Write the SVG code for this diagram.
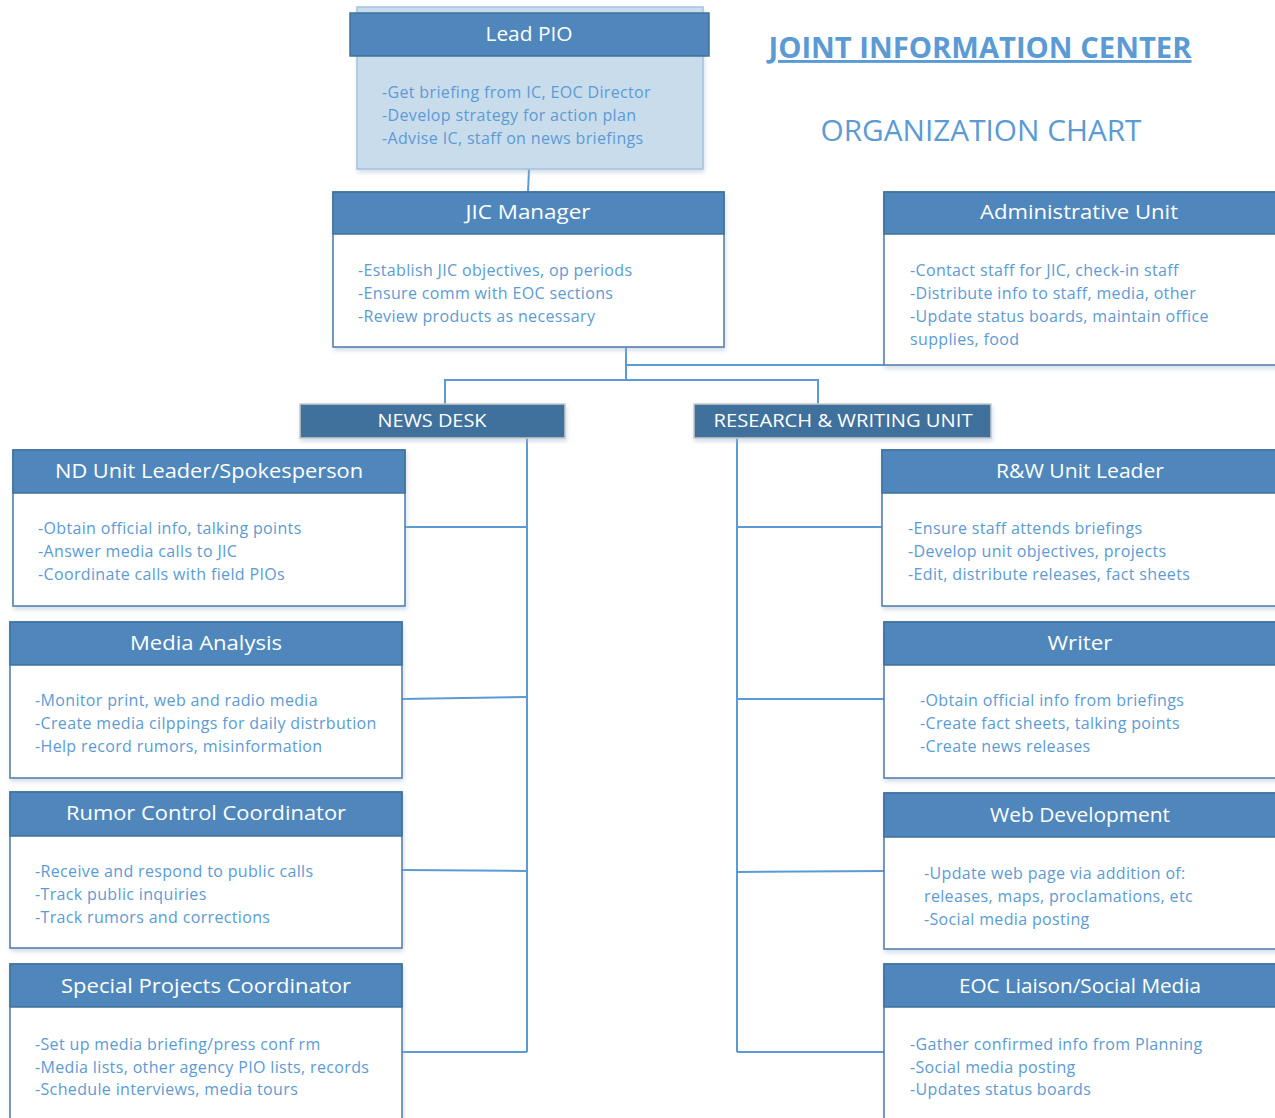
<svg xmlns="http://www.w3.org/2000/svg" width="1275" height="1118" viewBox="0 0 1275 1118">
<defs>
<filter id="sh" x="-5%" y="-5%" width="115%" height="120%">
<feDropShadow dx="1" dy="3" stdDeviation="2" flood-color="#9fb8d0" flood-opacity="0.45"/>
</filter>
<style>
.body{fill:#ffffff;stroke:#4a78a8;stroke-width:1.5}
.hdr{fill:#4f87bc;stroke:#41719c;stroke-width:1.5}
.unit{fill:#41719c;stroke:#c9c9c9;stroke-width:1.5}
.ttl{font-family:"Open Sans","Noto Sans",sans-serif;font-size:19.5px;fill:#ffffff;text-anchor:middle}
.unitt{font-family:"Open Sans","Noto Sans",sans-serif;font-size:18px;fill:#ffffff;text-anchor:middle}
.txt{font-family:"Open Sans","Noto Sans",sans-serif;font-size:16px;letter-spacing:0.35px;fill:#5b9bd5}
.con{fill:none;stroke:#5b9bd5;stroke-width:2}
.head1{font-family:"Open Sans","Noto Sans",sans-serif;font-size:29px;font-weight:bold;fill:#5b9bd5;text-anchor:middle;text-decoration:underline}
.head2{font-family:"Open Sans","Noto Sans",sans-serif;font-size:29px;fill:#5b9bd5;text-anchor:middle}
</style>
</defs>
<rect width="1275" height="1118" fill="#ffffff"/>

<g id="title">
<text class="head1" x="980" y="58" textLength="423" lengthAdjust="spacingAndGlyphs">JOINT INFORMATION CENTER</text>
<text class="head2" x="981" y="141" textLength="321" lengthAdjust="spacingAndGlyphs">ORGANIZATION CHART</text>
</g>

<g id="connectors">
<path class="con" d="M529 169 L528 192"/>
<path class="con" d="M626 347 L626 380"/>
<path class="con" d="M626 365 L884 365"/>
<path class="con" d="M445 404 L445 380 L818 380 L818 404"/>
<path class="con" d="M527 438 L527 1052"/>
<path class="con" d="M405 527 L527 527"/>
<path class="con" d="M402 699 L527 697"/>
<path class="con" d="M402 870 L527 871"/>
<path class="con" d="M402 1052 L527 1052"/>
<path class="con" d="M737 438 L737 1052"/>
<path class="con" d="M737 527 L882 527"/>
<path class="con" d="M737 699 L884 699"/>
<path class="con" d="M737 872 L884 871"/>
<path class="con" d="M737 1052 L884 1052"/>
</g>

<g id="lead-pio">
<rect x="357" y="7" width="346" height="162" fill="#c9dcec" stroke="#a3c3df" stroke-width="1.5" filter="url(#sh)"/>
<rect class="hdr" x="350" y="13" width="359" height="43"/>
<text class="ttl" x="529" y="41" textLength="87" lengthAdjust="spacingAndGlyphs">Lead PIO</text>
<text class="txt" x="382" y="98">-Get briefing from IC, EOC Director</text>
<text class="txt" x="382" y="121">-Develop strategy for action plan</text>
<text class="txt" x="382" y="144">-Advise IC, staff on news briefings</text>
</g>

<g id="jic-manager">
<rect class="body" x="333" y="192" width="391" height="155" filter="url(#sh)"/>
<rect class="hdr" x="333" y="192" width="391" height="42"/>
<text class="ttl" x="528" y="219" textLength="125" lengthAdjust="spacingAndGlyphs">JIC Manager</text>
<text class="txt" x="358" y="276">-Establish JIC objectives, op periods</text>
<text class="txt" x="358" y="299">-Ensure comm with EOC sections</text>
<text class="txt" x="358" y="322">-Review products as necessary</text>
</g>

<g id="admin-unit">
<rect class="body" x="884" y="192" width="395" height="173" filter="url(#sh)"/>
<rect class="hdr" x="884" y="192" width="395" height="42"/>
<text class="ttl" x="1079" y="219" textLength="198" lengthAdjust="spacingAndGlyphs">Administrative Unit</text>
<text class="txt" x="910" y="276">-Contact staff for JIC, check-in staff</text>
<text class="txt" x="910" y="299">-Distribute info to staff, media, other</text>
<text class="txt" x="910" y="322">-Update status boards, maintain office</text>
<text class="txt" x="910" y="345">supplies, food</text>
</g>

<g id="news-desk">
<rect class="unit" x="300" y="404" width="265" height="34" filter="url(#sh)"/>
<text class="unitt" x="432" y="427" textLength="109" lengthAdjust="spacingAndGlyphs">NEWS DESK</text>
</g>

<g id="rw-unit">
<rect class="unit" x="694" y="404" width="297" height="34" filter="url(#sh)"/>
<text class="unitt" x="843" y="427" textLength="259" lengthAdjust="spacingAndGlyphs">RESEARCH &amp; WRITING UNIT</text>
</g>

<g id="nd-leader">
<rect class="body" x="13" y="450" width="392" height="156" filter="url(#sh)"/>
<rect class="hdr" x="13" y="450" width="392" height="43"/>
<text class="ttl" x="209" y="478" textLength="308" lengthAdjust="spacingAndGlyphs">ND Unit Leader/Spokesperson</text>
<text class="txt" x="38" y="534">-Obtain official info, talking points</text>
<text class="txt" x="38" y="557">-Answer media calls to JIC</text>
<text class="txt" x="38" y="580">-Coordinate calls with field PIOs</text>
</g>

<g id="media-analysis">
<rect class="body" x="10" y="622" width="392" height="156" filter="url(#sh)"/>
<rect class="hdr" x="10" y="622" width="392" height="43"/>
<text class="ttl" x="206" y="650" textLength="152" lengthAdjust="spacingAndGlyphs">Media Analysis</text>
<text class="txt" x="35" y="706">-Monitor print, web and radio media</text>
<text class="txt" x="35" y="729">-Create media cilppings for daily distrbution</text>
<text class="txt" x="35" y="752">-Help record rumors, misinformation</text>
</g>

<g id="rumor-control">
<rect class="body" x="10" y="792" width="392" height="156" filter="url(#sh)"/>
<rect class="hdr" x="10" y="792" width="392" height="44"/>
<text class="ttl" x="206" y="820" textLength="280" lengthAdjust="spacingAndGlyphs">Rumor Control Coordinator</text>
<text class="txt" x="35" y="877">-Receive and respond to public calls</text>
<text class="txt" x="35" y="900">-Track public inquiries</text>
<text class="txt" x="35" y="923">-Track rumors and corrections</text>
</g>

<g id="special-projects">
<rect class="body" x="10" y="964" width="392" height="160" filter="url(#sh)"/>
<rect class="hdr" x="10" y="964" width="392" height="43"/>
<text class="ttl" x="206" y="993" textLength="290" lengthAdjust="spacingAndGlyphs">Special Projects Coordinator</text>
<text class="txt" x="35" y="1050">-Set up media briefing/press conf rm</text>
<text class="txt" x="35" y="1073">-Media lists, other agency PIO lists, records</text>
<text class="txt" x="35" y="1095">-Schedule interviews, media tours</text>
</g>

<g id="rw-leader">
<rect class="body" x="882" y="450" width="397" height="156" filter="url(#sh)"/>
<rect class="hdr" x="882" y="450" width="397" height="43"/>
<text class="ttl" x="1080" y="478" textLength="168" lengthAdjust="spacingAndGlyphs">R&amp;W Unit Leader</text>
<text class="txt" x="908" y="534">-Ensure staff attends briefings</text>
<text class="txt" x="908" y="557">-Develop unit objectives, projects</text>
<text class="txt" x="908" y="580">-Edit, distribute releases, fact sheets</text>
</g>

<g id="writer">
<rect class="body" x="884" y="622" width="395" height="156" filter="url(#sh)"/>
<rect class="hdr" x="884" y="622" width="395" height="43"/>
<text class="ttl" x="1080" y="650" textLength="65" lengthAdjust="spacingAndGlyphs">Writer</text>
<text class="txt" x="920" y="706">-Obtain official info from briefings</text>
<text class="txt" x="920" y="729">-Create fact sheets, talking points</text>
<text class="txt" x="920" y="752">-Create news releases</text>
</g>

<g id="web-development">
<rect class="body" x="884" y="793" width="395" height="156" filter="url(#sh)"/>
<rect class="hdr" x="884" y="793" width="395" height="44"/>
<text class="ttl" x="1080" y="822" textLength="180" lengthAdjust="spacingAndGlyphs">Web Development</text>
<text class="txt" x="924" y="879">-Update web page via addition of:</text>
<text class="txt" x="924" y="902">releases, maps, proclamations, etc</text>
<text class="txt" x="924" y="925">-Social media posting</text>
</g>

<g id="eoc-liaison">
<rect class="body" x="884" y="964" width="395" height="160" filter="url(#sh)"/>
<rect class="hdr" x="884" y="964" width="395" height="43"/>
<text class="ttl" x="1080" y="993" textLength="242" lengthAdjust="spacingAndGlyphs">EOC Liaison/Social Media</text>
<text class="txt" x="910" y="1050">-Gather confirmed info from Planning</text>
<text class="txt" x="910" y="1073">-Social media posting</text>
<text class="txt" x="910" y="1095">-Updates status boards</text>
</g>
</svg>
